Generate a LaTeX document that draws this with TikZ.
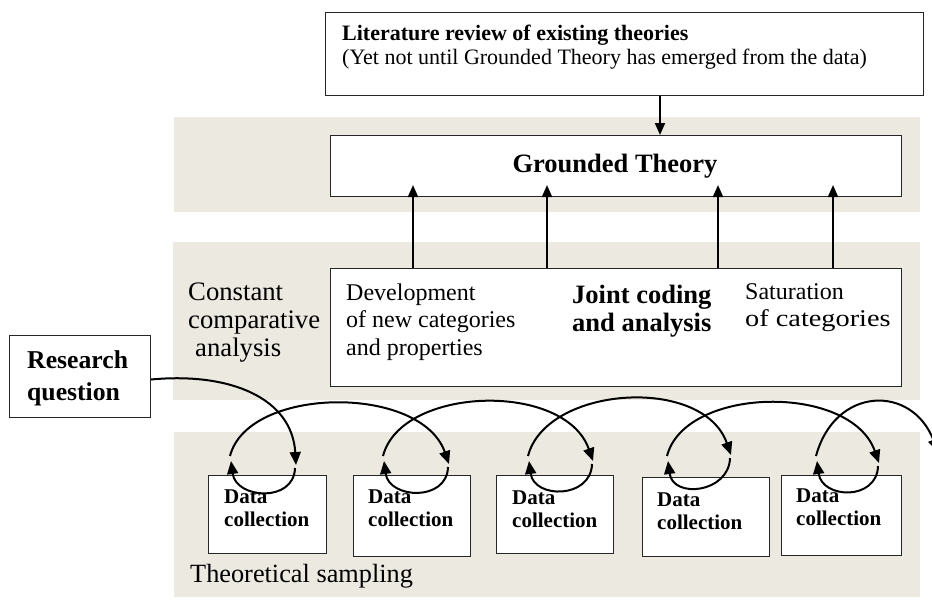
\documentclass[tikz,border=0pt]{standalone}
\usepackage{fontspec}
\setmainfont{Liberation Serif}
\usetikzlibrary{arrows.meta,calc}
\definecolor{bandfill}{RGB}{236,233,224}
\begin{document}
\begin{tikzpicture}[x=1pt,y=-1pt,
  band/.style={fill=bandfill,draw=none},
  frame/.style={draw=black!85,line width=1pt,fill=white,inner sep=0pt,anchor=north west},
  txt/.style={inner sep=0pt,align=left,anchor=west},
  uparrow/.style={line width=2pt,-{Triangle[length=12pt,width=10pt]}},
  looparrow/.style={line width=2pt,-{Triangle[length=13pt,width=11pt]}}]

\useasboundingbox (0,0) rectangle (932,600);
\clip (0,0) rectangle (932,600);

% shaded bands
\fill[band] (174,117) rectangle (920,212);
\fill[band] (173,242) rectangle (920,400);
\fill[band] (174,432) rectangle (920,597);

% boxes
\node[frame,minimum width=598pt,minimum height=83pt] (lit) at (325,12) {};
\node[frame,minimum width=571pt,minimum height=61pt] (gt) at (330,135) {};
\node[frame,minimum width=571pt,minimum height=118pt] (joint) at (330,268) {};
\node[frame,minimum width=141pt,minimum height=82pt] (rq) at (9,335) {};
\node[frame,minimum width=118pt,minimum height=78pt] (d1) at (208,475) {};
\node[frame,minimum width=117pt,minimum height=81pt] (d2) at (353,475) {};
\node[frame,minimum width=117pt,minimum height=78pt] (d3) at (496,475) {};
\node[frame,minimum width=127pt,minimum height=79pt] (d4) at (642,477) {};
\node[frame,minimum width=120pt,minimum height=80pt] (d5) at (781,475) {};

% texts
\node[txt,font=\fontsize{22}{24.5}\selectfont] (littext) at (342,47)
  {\textbf{Literature review of existing theories}\\(Yet not until Grounded Theory has emerged from the data)};
\node[inner sep=0pt,font=\fontsize{26.5}{29}\selectfont\bfseries] (gttext) at (615,166) {Grounded Theory};
\node[txt,font=\fontsize{24}{27.5}\selectfont] (devtext) at (346,322)
  {Development\\of new categories\\and properties};
\node[txt,font=\fontsize{26.5}{28}\selectfont\bfseries] (jointtext) at (572,311)
  {Joint coding\\and analysis};
\node[txt,font=\fontsize{24}{27}\selectfont] (sattext) at (745,308)
  {Saturation\\\scalebox{1.18}[1]{of categories}};
\node[txt,font=\fontsize{26.7}{28}\selectfont] (cca) at (188,323)
  {Constant\\comparative\\\hspace*{7pt}analysis};
\node[txt,font=\fontsize{25.7}{32}\selectfont\bfseries] (rqtext) at (27,378.5)
  {Research\\question};
\node[txt,font=\fontsize{26.3}{29}\selectfont] (tstext) at (190,576) {Theoretical sampling};
\foreach \b/\dx/\dy in {d1/16/33, d2/15/33, d3/16/34, d4/15/34, d5/15/32}{
  \node[txt,font=\fontsize{21}{23}\selectfont\bfseries] (\b text)
    at ([xshift=\dx pt,yshift=-\dy pt]\b.north west) {Data\\collection};
}

% arrow from the literature review down to the theory
\coordinate (lx) at (660,0);
\draw[uparrow] (lit.south -| lx) -- (gt.north -| lx);

% arrows from joint coding up into the theory
\foreach \i/\xx in {1/413,2/547,3/718,4/833}{
  \coordinate (ux\i) at (\xx,0);
  \draw[uparrow] (joint.north -| ux\i) -- ([yshift=12pt]gt.south -| ux\i);
}

% loop end points above each data box
\coordinate (B1) at (231,461); \coordinate (A1) at (296,465);
\coordinate (B2) at (384,461); \coordinate (A2) at (449,464);
\coordinate (B3) at (529,461); \coordinate (A3) at (593,461);
\coordinate (B4) at (668,461); \coordinate (A4) at (731,455);
\coordinate (B5) at (817,461); \coordinate (A5) at (879,463);
\coordinate (out) at (938,452);

% research question into the first collection round
\draw[looparrow] ([yshift=-3pt]rq.east) .. controls (230,372) and (292,398) .. (A1);

% small cups under each loop
\foreach \i in {1,...,5}{
  \draw[looparrow] ($(A\i)+(-1,3)$) .. controls ($(A\i)+(-2,38)$)
      and ($(B\i)+(5,38)$) .. (B\i);
}

% large arcs from one data box to the next
\foreach \i/\j in {1/2,2/3,3/4,4/5}{
  \draw[looparrow] ($(B\i)+(-1,-5)$) .. controls ($(B\i)+(17,-75)$)
      and ($(A\j)+(-28,-80)$) .. (A\j);
}
\draw[looparrow] ($(B5)+(-1,-5)$) .. controls (835,386) and (912,384) .. (out);

\end{tikzpicture}
\end{document}
